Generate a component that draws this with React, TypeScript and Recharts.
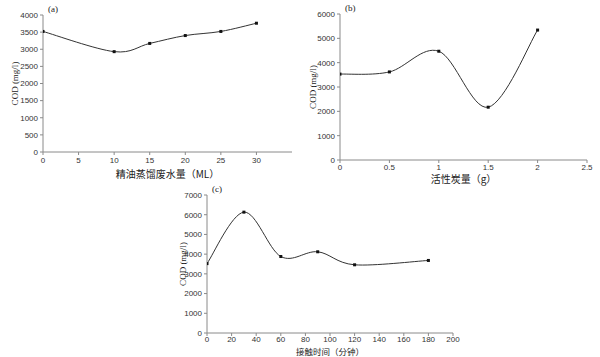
import { LineChart, Line, XAxis, YAxis, Label } from 'recharts';

const dosageA = [0, 10, 15, 20, 25, 30];
const codA = [3520, 2930, 3170, 3400, 3520, 3760];
const xTicksA = [0, 5, 10, 15, 20, 25, 30];
const yTicksA = [0, 500, 1000, 1500, 2000, 2500, 3000, 3500, 4000];

const carbonB = [0, 0.5, 1, 1.5, 2];
const codB = [3530, 3620, 4470, 2170, 5340];
const xTicksB = [0, 0.5, 1, 1.5, 2, 2.5];
const yTicksB = [0, 1000, 2000, 3000, 4000, 5000, 6000];

const timeC = [0, 30, 60, 90, 120, 180];
const codC = [3520, 6130, 3880, 4120, 3460, 3680];
const xTicksC = [0, 20, 40, 60, 80, 100, 120, 140, 160, 180, 200];
const yTicksC = [0, 1000, 2000, 3000, 4000, 5000, 6000, 7000];

const toRows = (xs: number[], ys: number[]) => xs.map((x, i) => ({ x, cod: ys[i] }));

// Excel-like smoothed line (Catmull-Rom through the points)
function smoothCurve(context: any) {
  let xs: number[] = [];
  let ys: number[] = [];
  return {
    areaStart() {},
    areaEnd() {},
    lineStart() {
      xs = [];
      ys = [];
    },
    lineEnd() {
      const n = xs.length;
      if (!n) return;
      context.moveTo(xs[0], ys[0]);
      for (let i = 0; i < n - 1; i++) {
        const p = i > 0 ? i - 1 : i;
        const q = i + 2 < n ? i + 2 : i + 1;
        const c1x = xs[i] + (xs[i + 1] - xs[p]) / 6;
        const c1y = ys[i] + (ys[i + 1] - ys[p]) / 6;
        const c2x = xs[i + 1] - (xs[q] - xs[i]) / 6;
        const c2y = ys[i + 1] - (ys[q] - ys[i]) / 6;
        context.bezierCurveTo(c1x, c1y, c2x, c2y, xs[i + 1], ys[i + 1]);
      }
    },
    point(x: number, y: number) {
      xs.push(+x);
      ys.push(+y);
    },
  };
}

const squareDot = (props: any) => (
  <rect key={props.key ?? `${props.cx}-${props.cy}`} x={props.cx - 1.5} y={props.cy - 1.5} width={3} height={3} fill="#111" />
);

const tickStyle = { fontSize: 8, fill: '#333', fontFamily: 'Liberation Sans' };
const axisStroke = '#8a8a8a';

type PanelProps = {
  data: { x: number; cod: number }[];
  width: number;
  height: number;
  margin: { top: number; right: number; left: number; bottom: number };
  yWidth: number;
  xHeight: number;
  xDomain: [number, number];
  xTicks: number[];
  yDomain: [number, number];
  yTicks: number[];
  xLabel: string;
  xLabelSize: number;
  xLabelOffset: number;
  xTickMargin: number;
  tag: string;
  yLabelDx: number;
};

function Panel(p: PanelProps) {
  return (
    <LineChart width={p.width} height={p.height} data={p.data} margin={p.margin}>
      <XAxis
        type="number"
        dataKey="x"
        domain={p.xDomain}
        ticks={p.xTicks}
        height={p.xHeight}
        tick={tickStyle}
        tickSize={3}
        tickMargin={p.xTickMargin}
        stroke={axisStroke}
        allowDataOverflow
      >
        <Label
          value={p.xLabel}
          position="insideBottom"
          offset={p.xLabelOffset}
          style={{ fontSize: p.xLabelSize, fill: '#222', fontFamily: 'Noto Sans CJK SC' }}
        />
      </XAxis>
      <YAxis
        type="number"
        domain={p.yDomain}
        ticks={p.yTicks}
        width={p.yWidth}
        tick={tickStyle}
        tickSize={3}
        stroke={axisStroke}
      >
        <Label
          value="COD (mg/l)"
          angle={-90}
          position="insideLeft"
          dx={p.yLabelDx}
          style={{ fontSize: 9, fill: '#222', fontFamily: 'Liberation Serif', textAnchor: 'middle' }}
        />
      </YAxis>
      <Line
        type={smoothCurve as any}
        dataKey="cod"
        stroke="#333"
        strokeWidth={1}
        dot={squareDot}
        activeDot={false}
        isAnimationActive={false}
      />
      <text x={p.margin.left + p.yWidth + 5} y={p.margin.top - 3} fontSize={9} fontFamily="Liberation Serif" fill="#222">
        {p.tag}
      </text>
    </LineChart>
  );
}

export default function App() {
  return (
    <div style={{ position: 'absolute', left: 0, top: 0, width: 600, height: 357, background: '#fff' }}>
      <div style={{ position: 'absolute', left: 0, top: 0 }}>
        <Panel
          data={toRows(dosageA, codA)}
          width={300}
          height={181}
          margin={{ top: 15, right: 8, left: 0, bottom: 0 }}
          yWidth={43}
          xHeight={29}
          xDomain={[0, 35]}
          xTicks={xTicksA}
          yDomain={[0, 4000]}
          yTicks={yTicksA}
          xLabel="精油蒸馏废水量（ML）"
          xLabelSize={10}
          xLabelOffset={3}
          xTickMargin={2}
          tag="(a)"
          yLabelDx={10}
        />
      </div>
      <div style={{ position: 'absolute', left: 300, top: 0 }}>
        <Panel
          data={toRows(carbonB, codB)}
          width={300}
          height={186}
          margin={{ top: 14, right: 13, left: 0, bottom: 0 }}
          yWidth={40}
          xHeight={26}
          xDomain={[0, 2.5]}
          xTicks={xTicksB}
          yDomain={[0, 6000]}
          yTicks={yTicksB}
          xLabel="活性炭量（g）"
          xLabelSize={10}
          xLabelOffset={3}
          xTickMargin={1}
          tag="(b)"
          yLabelDx={8}
        />
      </div>
      <div style={{ position: 'absolute', left: 150, top: 180 }}>
        <Panel
          data={toRows(timeC, codC)}
          width={320}
          height={177}
          margin={{ top: 15, right: 17, left: 0, bottom: 0 }}
          yWidth={57}
          xHeight={24}
          xDomain={[0, 200]}
          xTicks={xTicksC}
          yDomain={[0, 7000]}
          yTicks={yTicksC}
          xLabel="接触时间（分钟）"
          xLabelSize={8.5}
          xLabelOffset={2}
          xTickMargin={0}
          tag="(c)"
          yLabelDx={28}
        />
      </div>
    </div>
  );
}
